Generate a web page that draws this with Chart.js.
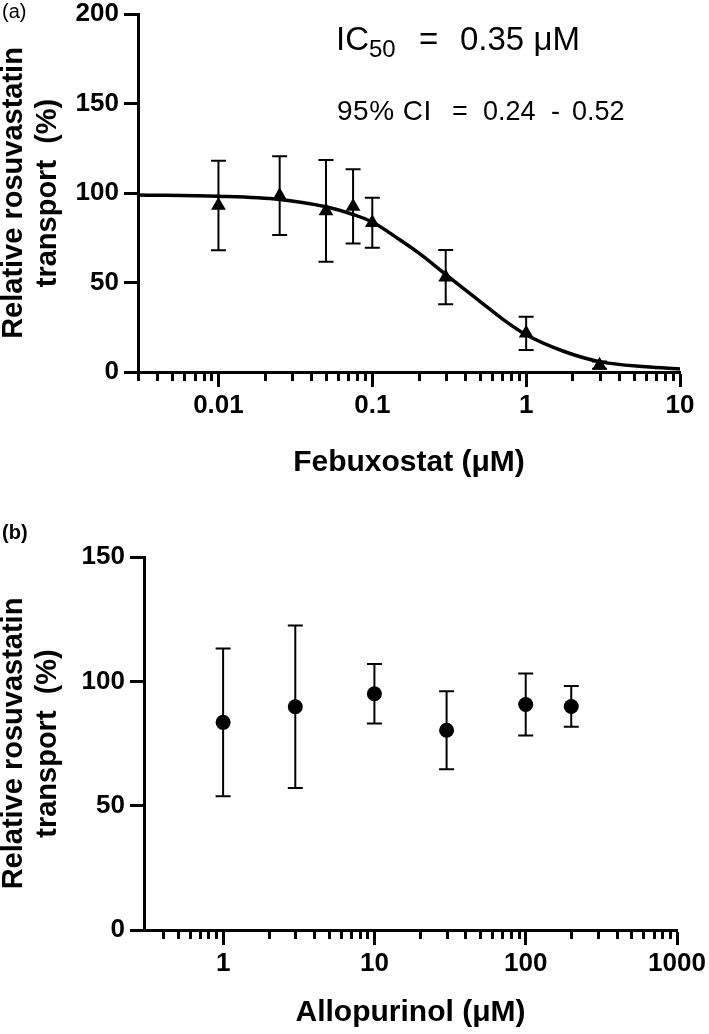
<!DOCTYPE html>
<html><head><meta charset="utf-8">
<script src="https://cdn.jsdelivr.net/npm/chart.js@4.4.0/dist/chart.umd.min.js"></script>
<style>
html,body{margin:0;padding:0;background:#fff;}
#wrap{position:relative;width:709px;height:1034px;overflow:hidden;background:#fff;}
#c1{position:absolute;left:0;top:0;}
#c2{position:absolute;left:0;top:485px;}
.t{position:absolute;font-family:"Liberation Sans",Arial,sans-serif;color:#000;white-space:pre;line-height:1;}
</style></head><body>
<div id="wrap">
<canvas id="c1" width="709" height="485"></canvas>
<canvas id="c2" width="709" height="549"></canvas>
<div class="t" style="left:2px;top:1px;font-size:20px;">(a)</div>
<div class="t" style="left:2px;top:522px;font-size:20px;font-weight:bold;">(b)</div>
<div class="t" style="left:336px;top:22px;font-size:33px;">IC</div>
<div class="t" style="left:369px;top:37px;font-size:24px;">50</div>
<div class="t" style="left:419px;top:22px;font-size:33px;">=</div>
<div class="t" style="left:460px;top:22px;font-size:33px;">0.35 μM</div>
<div class="t" style="left:337px;top:97px;font-size:28px;letter-spacing:0.5px;">95% CI</div>
<div class="t" style="left:452px;top:98px;font-size:27px;">=</div>
<div class="t" style="left:483px;top:98px;font-size:27px;">0.24</div>
<div class="t" style="left:551px;top:98px;font-size:27px;">-</div>
<div class="t" style="left:572px;top:98px;font-size:27px;">0.52</div>
</div>
<script>
// ---- Panel (a): Febuxostat ----
const febX    = [0.01, 0.025, 0.05, 0.075, 0.1, 0.3, 1, 3];
const febMean = [93, 98.5, 90, 92.5, 83.4, 53, 21.6, 3.8];
const febErr  = [25, 22, 28.4, 20.7, 14, 15.2, 9.3, 2];
const fitX    = [0.003, 0.01, 0.025, 0.05, 0.075, 0.1, 0.15, 0.2, 0.3, 0.4, 0.5, 0.7, 1, 1.75, 3, 6, 10];
const fitY    = [98.9, 98.2, 96.4, 92.3, 88, 83.8, 74, 66.5, 54.5, 46, 39.5, 29.7, 20.8, 11.6, 5.8, 2.9, 1.7];
const febMajorTicks = [0.01, 0.1, 1, 10];
const febYTicks = [0, 50, 100, 150, 200];

// ---- Panel (b): Allopurinol ----
const alloX    = [1, 3, 10, 30, 100, 200];
const alloMean = [83.5, 89.8, 95, 80.3, 90.7, 89.9];
const alloErr  = [29.7, 32.7, 12, 15.7, 12.5, 8.2];
const alloMajorTicks = [1, 10, 100, 1000];
const alloYTicks = [0, 50, 100, 150];

const yTitle = ['Relative rosuvastatin', 'transport  (%)'];
const FONT = '"Liberation Sans", Arial, sans-serif';
Chart.defaults.color = '#000';
Chart.defaults.font.family = FONT;

function minorTicks(min, max) {
  const out = [];
  for (let d = Math.floor(Math.log10(min)); d < Math.ceil(Math.log10(max)); d++) {
    for (let k = 2; k <= 9; k++) {
      const v = k * Math.pow(10, d);
      if (v >= min * 0.999 && v <= max) out.push(v);
    }
  }
  return out;
}

const errorBars = {
  id: 'errorBars',
  beforeDatasetsDraw(chart, args, o) {
    const {ctx, scales: {x, y}} = chart;
    ctx.save();
    ctx.strokeStyle = '#000';
    ctx.lineWidth = 2;
    o.xs.forEach((xv, i) => {
      const px = x.getPixelForValue(xv);
      const t = y.getPixelForValue(o.means[i] + o.errs[i]);
      const b = y.getPixelForValue(o.means[i] - o.errs[i]);
      ctx.beginPath();
      ctx.moveTo(px, t); ctx.lineTo(px, b);
      ctx.moveTo(px - o.cap, t); ctx.lineTo(px + o.cap, t);
      ctx.moveTo(px - o.cap, b); ctx.lineTo(px + o.cap, b);
      ctx.stroke();
    });
    ctx.restore();
  }
};

const minorTickPlugin = {
  id: 'minorTickPlugin',
  afterDraw(chart, args, o) {
    const {ctx, scales: {x}, chartArea} = chart;
    ctx.save();
    ctx.strokeStyle = '#000';
    ctx.lineWidth = 3;
    o.values.forEach(v => {
      const px = Math.round(x.getPixelForValue(v)) + 0.5;
      ctx.beginPath();
      ctx.moveTo(px, chartArea.bottom);
      ctx.lineTo(px, chartArea.bottom + o.len);
      ctx.stroke();
    });
    ctx.restore();
  }
};

function makeChart(id, cfg) {
  return new Chart(document.getElementById(id), {
    type: 'scatter',
    data: { datasets: cfg.datasets },
    plugins: [errorBars, minorTickPlugin],
    options: {
      responsive: false,
      animation: false,
      events: [],
      layout: { padding: cfg.padding },
      plugins: {
        legend: { display: false },
        tooltip: { enabled: false },
        errorBars: { xs: cfg.ex, means: cfg.em, errs: cfg.ee, cap: 7.5 },
        minorTickPlugin: { values: cfg.minor, len: 9 }
      },
      scales: {
        x: {
          type: 'logarithmic',
          min: cfg.xmin, max: cfg.xmax,
          bounds: 'data',
          afterBuildTicks: s => { s.ticks = cfg.majors.map(v => ({ value: v, major: true })); },
          afterFit: s => { s.height = cfg.xh; s.paddingLeft = 0; s.paddingRight = 0; },
          ticks: {
            autoSkip: false, maxRotation: 0, minRotation: 0,
            padding: 6,
            font: { size: 26, weight: 'bold', family: FONT, lineHeight: 1 },
            callback: v => String(v)
          },
          grid: { display: true, drawOnChartArea: false, drawTicks: true, tickLength: 15, tickWidth: 3, tickColor: '#000' },
          border: { display: true, width: 3, color: '#000' },
          title: {
            display: true, text: cfg.xtitle,
            font: { size: 30, weight: 'bold', family: FONT, lineHeight: 1.2 },
            padding: { top: 0, bottom: cfg.xtpad }
          }
        },
        y: {
          type: 'linear',
          min: 0, max: cfg.ymax,
          afterBuildTicks: s => { s.ticks = cfg.yticks.map(v => ({ value: v })); },
          afterFit: s => { s.width = cfg.yw; s.paddingTop = 0; s.paddingBottom = 0; },
          ticks: {
            padding: 5,
            font: { size: 26, weight: 'bold', family: FONT, lineHeight: 1 }
          },
          grid: { display: true, drawOnChartArea: false, drawTicks: true, tickLength: 14, tickWidth: 3, tickColor: '#000' },
          border: { display: true, width: 3, color: '#000' },
          title: {
            display: true, text: yTitle,
            font: { size: 29, weight: 'bold', family: FONT, lineHeight: '34px' },
            padding: { top: -3, bottom: 0 }
          }
        }
      }
    }
  });
}

makeChart('c1', {
  datasets: [
    { data: febX.map((x, i) => ({ x, y: febMean[i] })), pointStyle: 'triangle', pointRadius: 8.5,
      backgroundColor: '#000', borderColor: '#000', borderWidth: 0, showLine: false },
    { data: fitX.map((x, i) => ({ x, y: fitY[i] })), showLine: true, pointRadius: 0,
      borderColor: '#000', borderWidth: 3.5, tension: 0.4, cubicInterpolationMode: 'monotone', fill: false }
  ],
  padding: { top: 14, right: 29, bottom: 0, left: 0 },
  ex: febX, em: febMean, ee: febErr,
  minor: minorTicks(0.003, 10),
  xmin: 0.003, xmax: 10, majors: febMajorTicks, xh: 113,
  xtitle: 'Febuxostat (μM)', xtpad: 4,
  ymax: 200, yticks: febYTicks, yw: 138
});

makeChart('c2', {
  datasets: [
    { data: alloX.map((x, i) => ({ x, y: alloMean[i] })), pointStyle: 'circle', pointRadius: 7.5,
      backgroundColor: '#000', borderColor: '#000', borderWidth: 0, showLine: false }
  ],
  padding: { top: 72, right: 32, bottom: 0, left: 0 },
  ex: alloX, em: alloMean, ee: alloErr,
  minor: minorTicks(0.4, 1000),
  xmin: 0.3, xmax: 1000, majors: alloMajorTicks, xh: 104,
  xtitle: 'Allopurinol (μM)', xtpad: 3,
  ymax: 150, yticks: alloYTicks, yw: 144
});
</script>
</body></html>
